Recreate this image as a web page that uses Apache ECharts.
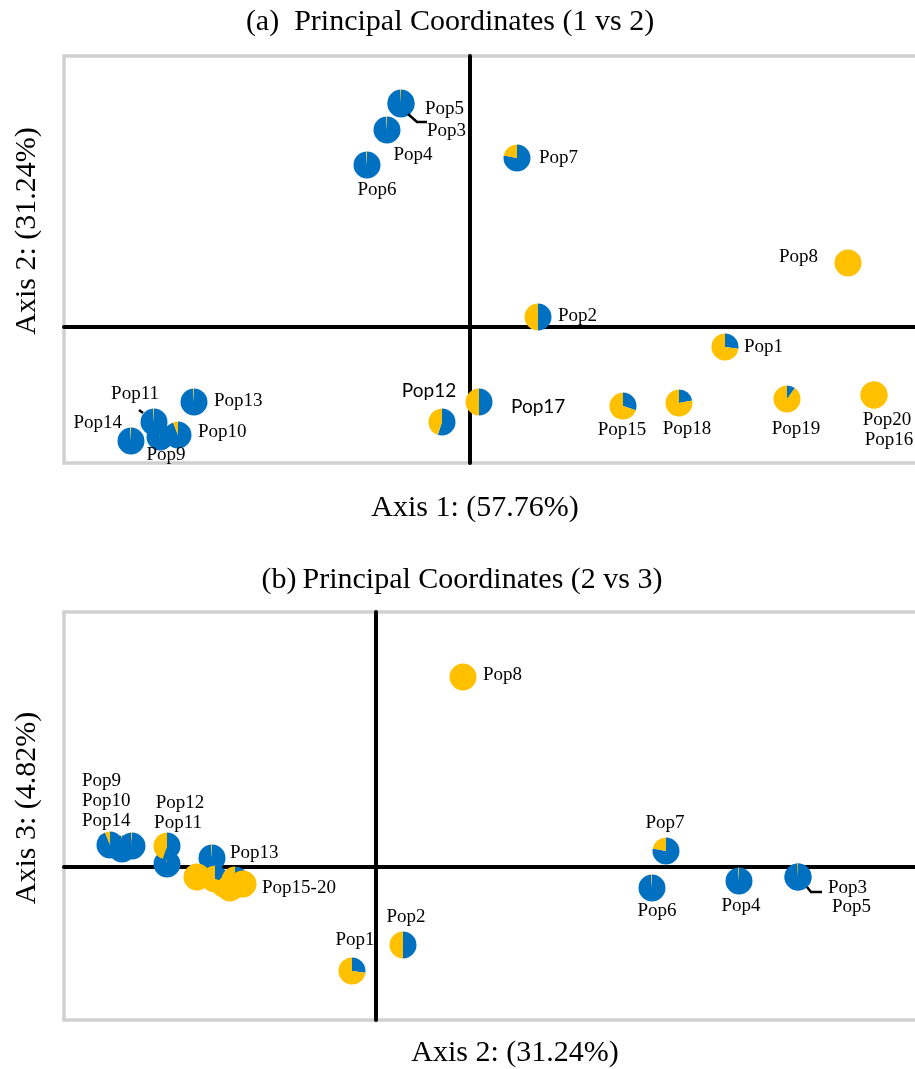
<!DOCTYPE html>
<html>
<head>
<meta charset="utf-8">
<script src="https://cdn.jsdelivr.net/npm/echarts@6/dist/echarts.min.js"></script>
<style>
  html, body { margin: 0; padding: 0; background: #fff; }
  #chart { width: 915px; height: 1069px; }
</style>
</head>
<body>
<div id="chart"></div>
<script>
// Populations, listed in the order the pies are stacked (later ones on top)
const populations = ['Pop9', 'Pop14', 'Pop11', 'Pop10', 'Pop13', 'Pop12', 'Pop17', 'Pop16', 'Pop15', 'Pop19',
                     'Pop18', 'Pop20', 'Pop1', 'Pop2', 'Pop3', 'Pop5', 'Pop4', 'Pop6', 'Pop7', 'Pop8'];

// Share of the blue cluster in each population (the rest is the yellow cluster)
const blueShare = [0.99, 0.99, 0.99, 0.94, 0.99, 0.55, 0.50, 0.00, 0.30, 0.10,
                   0.22, 0.00, 0.27, 0.50, 0.99, 0.99, 0.99, 0.99, 0.78, 0.00];

// Panel (a): principal coordinates 1 vs 2
const coordA1 = [-0.310, -0.339, -0.316, -0.292, -0.276, -0.028, 0.009, 0.404, 0.153, 0.317,
                 0.209, 0.404, 0.255, 0.068, -0.069, -0.069, -0.083, -0.103, 0.047, 0.378];
const coordA2 = [-0.110, -0.114, -0.095, -0.108, -0.075, -0.095, -0.075, -0.068, -0.079, -0.072,
                 -0.076, -0.068, -0.020, 0.010, 0.223, 0.224, 0.197, 0.162, 0.169, 0.064];

// Panel (b): principal coordinates 2 vs 3
const coordB2 = [-0.254, -0.244, -0.209, -0.266, -0.164, -0.209, -0.152, -0.179, -0.161, -0.146,
                 -0.141, -0.133, -0.024, 0.027, 0.422, 0.422, 0.363, 0.276, 0.290, 0.087];
const coordB3 = [0.018, 0.021, 0.003, 0.022, 0.009, 0.021, -0.017, -0.010, -0.012, -0.021,
                 -0.013, -0.017, -0.104, -0.078, -0.010, -0.010, -0.014, -0.021, 0.016, 0.190];

// Text
const titleA = '(a)  Principal Coordinates (1 vs 2)';
const titleB = '(b)\u2009Principal Coordinates (2 vs 3)';
const axisName1 = 'Axis 1: (57.76%)';
const axisName2 = 'Axis 2: (31.24%)';
const axisName3 = 'Axis 3: (4.82%)';
const clusterLabel = 'Pop15-20';

// Label placement around each pie (pixel offsets from the pie centre)
const labelsA = {
  Pop9:  { dx: 6,   dy: 18,  align: 'center' },
  Pop14: { dx: -9,  dy: -18, align: 'right' },
  Pop11: { dx: -19, dy: -28, align: 'center', leader: [[-15, -12], [-11, -9]] },
  Pop10: { dx: 20,  dy: -3,  align: 'left' },
  Pop13: { dx: 20,  dy: -1,  align: 'left' },
  Pop12: { dx: -13, dy: -31, align: 'center', sans: true },
  Pop17: { dx: 32,  dy: 5,   align: 'left', sans: true },
  Pop16: { dx: 15,  dy: 45,  align: 'center' },
  Pop15: { dx: -1,  dy: 24,  align: 'center' },
  Pop19: { dx: 9,   dy: 30,  align: 'center' },
  Pop18: { dx: 8,   dy: 26,  align: 'center' },
  Pop20: { dx: 13,  dy: 25,  align: 'center' },
  Pop1:  { dx: 19,  dy: 0,   align: 'left' },
  Pop2:  { dx: 20,  dy: -1,  align: 'left' },
  Pop3:  { dx: 26,  dy: 27,  align: 'left', leader: [[7, 10], [16, 18], [26, 18]] },
  Pop5:  { dx: 24,  dy: 6,   align: 'left' },
  Pop4:  { dx: 26,  dy: 25,  align: 'center' },
  Pop6:  { dx: 10,  dy: 25,  align: 'center' },
  Pop7:  { dx: 22,  dy: 0,   align: 'left' },
  Pop8:  { dx: -30, dy: -6,  align: 'right' }
};
const labelsB = {
  Pop9:  { dx: -40, dy: -68, align: 'left' },
  Pop10: { dx: -28, dy: -44, align: 'left' },
  Pop14: { dx: -50, dy: -25, align: 'left' },
  Pop12: { dx: 13,  dy: -43, align: 'center' },
  Pop11: { dx: 11,  dy: -41, align: 'center' },
  Pop13: { dx: 18,  dy: -5,  align: 'left' },
  Pop20: { dx: 19,  dy: 4,   align: 'left', text: clusterLabel },
  Pop1:  { dx: 3,   dy: -31, align: 'center' },
  Pop2:  { dx: 3,   dy: -28, align: 'center' },
  Pop7:  { dx: -1,  dy: -28, align: 'center' },
  Pop6:  { dx: 5,   dy: 23,  align: 'center' },
  Pop4:  { dx: 2,   dy: 25,  align: 'center' },
  Pop3:  { dx: 30,  dy: 11,  align: 'left', leader: [[9, 10], [13, 15], [24, 15]] },
  Pop5:  { dx: 34,  dy: 30,  align: 'left' },
  Pop8:  { dx: 20,  dy: -2,  align: 'left' }
};

const BLUE = '#0070C0';
const YELLOW = '#FFC000';
const PIE_R = 13.5;
const SERIF = '"Liberation Serif", "Times New Roman", serif';
const SANS = 'Lato, "Liberation Sans", sans-serif';

function pointsOf(xs, ys) {
  return populations.map((name, i) => [xs[i], ys[i], blueShare[i]]);
}

// One pie per population: blue share clockwise from 12 o'clock, yellow for the rest
function renderPie(params, api) {
  const c = api.coord([api.value(0), api.value(1)]);
  const share = api.value(2);
  const start = -Math.PI / 2;
  const mid = start + share * 2 * Math.PI;
  const children = [];
  if (share > 0) {
    children.push({ type: 'sector',
      shape: { cx: c[0], cy: c[1], r0: 0, r: PIE_R, startAngle: start, endAngle: mid, clockwise: true },
      style: { fill: BLUE } });
  }
  if (share < 1) {
    children.push({ type: 'sector',
      shape: { cx: c[0], cy: c[1], r0: 0, r: PIE_R, startAngle: mid, endAngle: start + 2 * Math.PI, clockwise: true },
      style: { fill: YELLOW } });
  }
  return { type: 'group', children };
}

function labelRenderer(labels) {
  return function (params, api) {
    const name = populations[params.dataIndex];
    const cfg = labels[name];
    if (!cfg) return { type: 'group', children: [] };
    const c = api.coord([api.value(0), api.value(1)]);
    const font = cfg.sans ? '19px ' + SANS : '19px ' + SERIF;
    const children = [{
      type: 'text',
      x: c[0] + cfg.dx, y: c[1] + cfg.dy,
      style: { text: cfg.text || name, font, fill: '#000',
               align: cfg.align, textAlign: cfg.align,
               verticalAlign: 'middle', textVerticalAlign: 'middle' }
    }];
    if (cfg.leader) {
      children.push({ type: 'polyline',
        shape: { points: cfg.leader.map(p => [c[0] + p[0], c[1] + p[1]]) },
        style: { stroke: '#000', lineWidth: 2.5, fill: null } });
    }
    return { type: 'group', children };
  };
}

function valueAxis(gridIndex, min, max) {
  return {
    type: 'value', gridIndex, min, max,
    axisLine: { show: true, onZero: true, lineStyle: { color: '#000', width: 4 } },
    axisTick: { show: false }, axisLabel: { show: false }, splitLine: { show: false }
  };
}

// The plot boxes run past the right edge of the page, so no right border shows
function gridBox(top, height) {
  return { left: 64, top, width: 860, height, show: true,
           outerBoundsMode: 'none', containLabel: false,
           borderColor: '#d0d0d0', borderWidth: 3.5, backgroundColor: '#fff' };
}

function textEl(x, y, text, rotation) {
  return { type: 'text', x, y, rotation: rotation || 0,
    style: { text, font: '30px ' + SERIF, fill: '#000',
             align: 'center', textAlign: 'center',
             verticalAlign: 'middle', textVerticalAlign: 'middle' } };
}

const chart = echarts.init(document.getElementById('chart'), null, { renderer: 'canvas' });
chart.setOption({
  animation: false,
  backgroundColor: '#fff',
  grid: [gridBox(56, 407), gridBox(612, 408)],
  xAxis: [valueAxis(0, -0.406, 0.454), valueAxis(1, -0.312, 0.548)],
  yAxis: [valueAxis(0, -0.136, 0.271), valueAxis(1, -0.153, 0.255)],
  graphic: [
    textEl(450, 22, titleA),
    textEl(475, 508, axisName1),
    textEl(27, 231, axisName2, Math.PI / 2),
    textEl(462, 580, titleB),
    textEl(515, 1053, axisName2),
    textEl(27, 808, axisName3, Math.PI / 2)
  ],
  series: [
    { type: 'custom', xAxisIndex: 0, yAxisIndex: 0, z: 3, silent: true,
      data: pointsOf(coordA1, coordA2), renderItem: renderPie },
    { type: 'custom', xAxisIndex: 0, yAxisIndex: 0, z: 4, silent: true,
      data: pointsOf(coordA1, coordA2), renderItem: labelRenderer(labelsA) },
    { type: 'custom', xAxisIndex: 1, yAxisIndex: 1, z: 3, silent: true,
      data: pointsOf(coordB2, coordB3), renderItem: renderPie },
    { type: 'custom', xAxisIndex: 1, yAxisIndex: 1, z: 4, silent: true,
      data: pointsOf(coordB2, coordB3), renderItem: labelRenderer(labelsB) }
  ]
});
</script>
</body>
</html>
